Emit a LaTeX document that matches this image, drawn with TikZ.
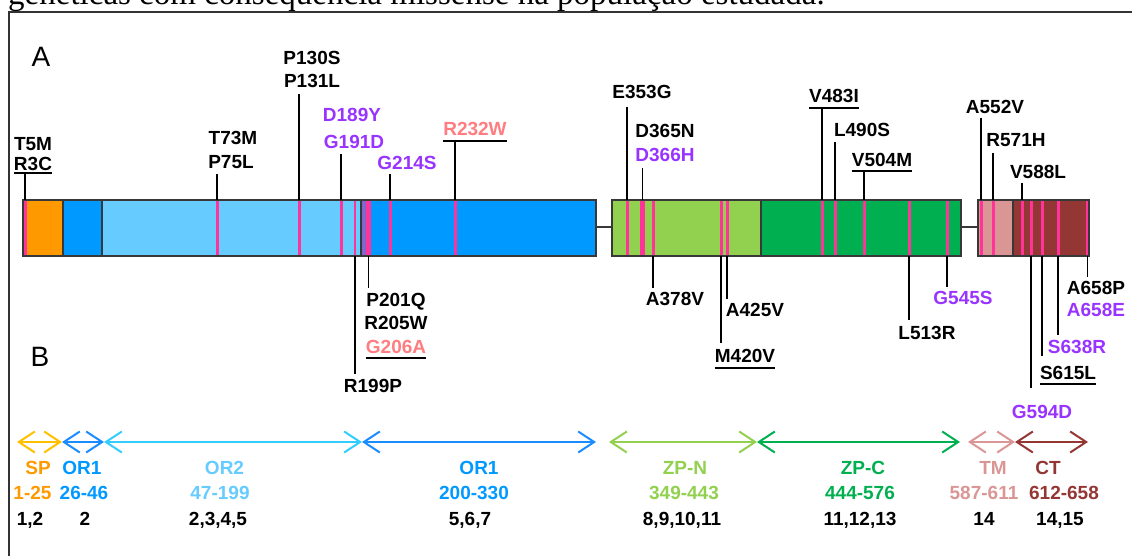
\documentclass[tikz,border=0pt]{standalone}
\usepackage{fontspec}
\setmainfont{Liberation Sans}
\newfontfamily\serifcut{Liberation Serif}
\usetikzlibrary{arrows.meta}
\definecolor{cSP}{HTML}{FF9900}
\definecolor{cSParrow}{HTML}{FFC000}
\definecolor{cOR1}{HTML}{0099FF}
\definecolor{cOR1arrow}{HTML}{1A8CFF}
\definecolor{cOR2}{HTML}{66CCFF}
\definecolor{cOR2arrow}{HTML}{33CCFF}
\definecolor{cZPN}{HTML}{92D050}
\definecolor{cZPC}{HTML}{00B050}
\definecolor{cTM}{HTML}{D99694}
\definecolor{cCT}{HTML}{943634}
\definecolor{cMut}{HTML}{FF3399}
\definecolor{cPurple}{HTML}{9933FF}
\definecolor{cSalmon}{HTML}{FF7C80}
\definecolor{cEdge}{HTML}{383838}
\begin{document}
\begin{tikzpicture}[x=1pt,y=-1pt,
  lab/.style={font=\bfseries\fontsize{19}{19}\selectfont, inner sep=0pt, text height=13.6pt, text depth=0pt, anchor=center, text=black},
  pur/.style={lab, text=cPurple},
  sal/.style={lab, text=cSalmon},
  panel/.style={font=\fontsize{28}{28}\selectfont, inner sep=0pt, text height=20pt, text depth=0pt},
  leader/.style={draw=black, line width=1.6pt},
  uline/.style={draw=black, line width=1.4pt},
  edge/.style={draw=cEdge, line width=2pt},
  span/.style={line width=2pt, {Straight Barb[length=16pt,width=21pt]}-{Straight Barb[length=16pt,width=21pt]}},
  frame/.style={draw=black!80, line width=1.6pt}
]
\useasboundingbox (0,0) rectangle (1132,556);

% cut-off caption line and frame
\node[anchor=base west, font=\serifcut\fontsize{33}{33}\selectfont, inner sep=0pt] (cap) at (8,5) {genéticas com consequência missense na população estudada.};
\draw[frame] (9,570) -- (9,12) -- (1136,12);

% panel letters
\node[panel] (pA) at (41,57) {A};
\node[panel] (pB) at (40,356) {B};

% bar segments
\coordinate (bt) at (0,200);
\coordinate (bb) at (0,256);
\fill[cSP]  (22.7,200) rectangle (63,256);
\fill[cOR1] (63,200) rectangle (101.7,256);
\fill[cOR2] (101.7,200) rectangle (360.7,256);
\fill[cOR1] (360.7,200) rectangle (596,256);
\fill[cZPN] (612.3,200) rectangle (760.7,256);
\fill[cZPC] (760.7,200) rectangle (961,256);
\fill[cTM]  (978.3,200) rectangle (1012.7,256);
\fill[cCT]  (1012.7,200) rectangle (1089.3,256);

% mutation stripes
\foreach \n/\x/\w in {sA/25/3, sB/217/3, sC/299/3, sD/341/3, sE/355/2, sF/364/2, sG/368.5/5, sH/390/3, sI/455/3,
  sJ/627/3, sK/642.5/5, sL/653/3, sM/721/3, sN/727/3, sO/822/3, sP/835/3, sQ/864/3, sR/909/3, sS/947/3,
  sT/981/3, sU/993/3, sV/1022/3, sW/1031/3, sX/1042/3, sY/1058/3, sZ/1087.5/3}{
  \fill[cMut] (\x-\w/2,200) rectangle (\x+\w/2,256);
  \coordinate (\n) at (\x,228);
}

% outlines and linkers
\draw[edge] (22.7,200) rectangle (596,256);
\draw[edge] (63,200) -- (63,256) (101.7,200) -- (101.7,256) (360.7,200) -- (360.7,256);
\draw[edge] (612.3,200) rectangle (961,256);
\draw[edge] (760.7,200) -- (760.7,256);
\draw[edge] (978.3,200) rectangle (1089.3,256);
\draw[edge] (1012.7,200) -- (1012.7,256);
\draw[edge] (596,227) -- (612.3,227);
\draw[edge] (961,227) -- (978.3,227);

% labels above
\node[lab] (T5M) at (33,143.5) {T5M};
\node[lab] (R3C) at (33,164) {R3C};
\node[lab] (T73M) at (233,138) {T73M};
\node[lab] (P75L) at (231,162) {P75L};
\node[lab] (P130S) at (312,58) {P130S};
\node[lab] (P131L) at (312,81) {P131L};
\node[pur] (D189Y) at (352,114.5) {D189Y};
\node[pur] (G191D) at (354,141.5) {G191D};
\node[pur] (G214S) at (407,163) {G214S};
\node[sal] (R232W) at (475,129) {R232W};
\node[lab] (E353G) at (642,92) {E353G};
\node[lab] (D365N) at (665,131) {D365N};
\node[pur] (D366H) at (665,155) {D366H};
\node[lab] (V483I) at (834,96) {V483I};
\node[lab] (L490S) at (862,130) {L490S};
\node[lab] (V504M) at (882,160) {V504M};
\node[lab] (A552V) at (995,106.5) {A552V};
\node[lab] (R571H) at (1016,140) {R571H};
\node[lab] (V588L) at (1038,171.5) {V588L};

% labels below
\node[lab] (R199P) at (373,386) {R199P};
\node[lab] (P201Q) at (396,300) {P201Q};
\node[lab] (R205W) at (396,323) {R205W};
\node[sal] (G206A) at (396,347) {G206A};
\node[lab] (A378V) at (675,299) {A378V};
\node[lab] (A425V) at (755,310) {A425V};
\node[lab] (M420V) at (745,356) {M420V};
\node[lab] (L513R) at (927,333) {L513R};
\node[pur] (G545S) at (963,297.5) {G545S};
\node[pur] (G594D) at (1042,412) {G594D};
\node[lab] (S615L) at (1068,373) {S615L};
\node[pur] (S638R) at (1077,347) {S638R};
\node[lab] (A658P) at (1096,288) {A658P};
\node[pur] (A658E) at (1096,310) {A658E};

% underlines
\draw[uline] (R3C.west |- 0,173) -- (R3C.east |- 0,173);
\draw[uline] (R232W.west |- 0,141) -- (R232W.east |- 0,141);
\draw[uline] (G206A.west |- 0,358) -- (G206A.east |- 0,358);
\draw[uline] (M420V.west |- 0,368) -- (M420V.east |- 0,368);
\draw[uline] (V483I.west |- 0,108) -- (V483I.east |- 0,108);
\draw[uline] (V504M.west |- 0,171) -- (V504M.east |- 0,171);
\draw[uline] (S615L.west |- 0,384) -- (S615L.east |- 0,384);

% leaders above the bar
\foreach \s/\y in {sA/173, sB/174, sC/94, sD/154, sH/174, sI/141, sJ/107, sK/168, sO/108, sP/142, sQ/171, sT/118, sU/153, sV/183}{
  \draw[leader] (\s |- 0,\y) -- (\s |- bt);
}
% leaders below the bar
\foreach \s/\y in {sE/374, sG/288, sL/288, sN/299, sM/343, sR/320, sS/287, sW/388, sX/356, sY/335, sZ/277}{
  \draw[leader] (\s |- bb) -- (\s |- 0,\y);
}

% section B: domain spans
\coordinate (a0) at (17,442);
\coordinate (a1) at (62,442);
\coordinate (a2) at (104,442);
\coordinate (a3) at (362,442);
\coordinate (a4) at (596,442);
\coordinate (a5) at (609,442);
\coordinate (a6) at (757,442);
\coordinate (a7) at (960,442);
\coordinate (a8) at (968,442);
\coordinate (a9) at (1015,442);
\coordinate (a10) at (1088,442);
\draw[span, draw=cOR2arrow] (a2) -- (a3);
\draw[span, draw=cOR1arrow] (a3) -- (a4);
\draw[span, draw=cSParrow] (a0) -- (a1);
\draw[span, draw=cOR1arrow] (a1) -- (a2);
\draw[span, draw=cZPN] (a5) -- (a6);
\draw[span, draw=cZPC] (a6) -- (a7);
\draw[span, draw=cTM] (a8) -- (a9);
\draw[span, draw=cCT] (a9) -- (a10);

\node[lab, text=cSP] (nSP) at (38,468) {SP};
\node[lab, text=cOR1] (nOR1a) at (82,468) {OR1};
\node[lab, text=cOR2] (nOR2) at (224.5,468) {OR2};
\node[lab, text=cOR1] (nOR1b) at (479,468) {OR1};
\node[lab, text=cZPN] (nZPN) at (685,468) {ZP-N};
\node[lab, text=cZPC] (nZPC) at (863,468) {ZP-C};
\node[lab, text=cTM] (nTM) at (993,468) {TM};
\node[lab, text=cCT] (nCT) at (1048,468) {CT};

\node[lab, text=cSP] (rSP) at (32.5,493) {1-25};
\node[lab, text=cOR1] (rOR1a) at (84,493) {26-46};
\node[lab, text=cOR2] (rOR2) at (220,493) {47-199};
\node[lab, text=cOR1] (rOR1b) at (474,493) {200-330};
\node[lab, text=cZPN] (rZPN) at (684,493) {349-443};
\node[lab, text=cZPC] (rZPC) at (860,493) {444-576};
\node[lab, text=cTM] (rTM) at (984,493) {587-611};
\node[lab, text=cCT] (rCT) at (1064,493) {612-658};

\node[lab] (fSP) at (30,519) {1,2};
\node[lab] (fOR1a) at (85,519) {2};
\node[lab] (fOR2) at (218,519) {2,3,4,5};
\node[lab] (fOR1b) at (470,519) {5,6,7};
\node[lab] (fZPN) at (682,519) {8,9,10,11};
\node[lab] (fZPC) at (860,519) {11,12,13};
\node[lab] (fTM) at (984,519) {14};
\node[lab] (fCT) at (1060,519) {14,15};
\end{tikzpicture}
\end{document}
